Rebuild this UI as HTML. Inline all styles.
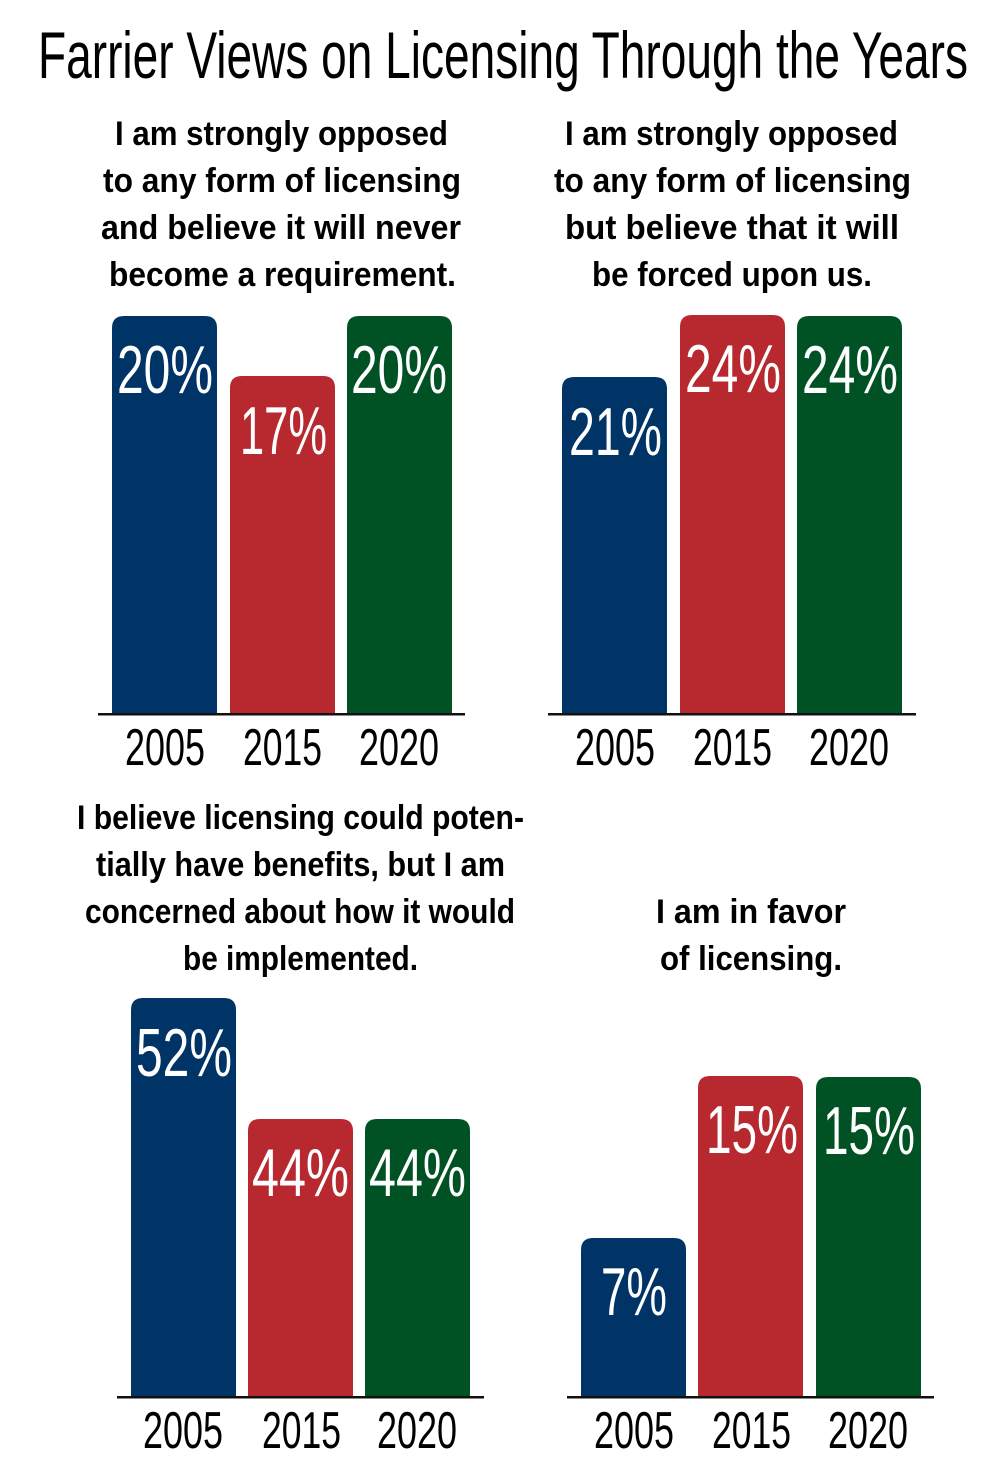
<!DOCTYPE html>
<html><head><meta charset="utf-8"><style>html,body{margin:0;padding:0;background:#fff}svg{display:block}</style></head><body>
<svg width="1000" height="1459" viewBox="0 0 1000 1459" xmlns="http://www.w3.org/2000/svg" font-family="'Liberation Sans Narrow','Liberation Sans',sans-serif">
<text x="38" y="78" font-size="66" textLength="930" lengthAdjust="spacingAndGlyphs" fill="#000">Farrier Views on Licensing Through the Years</text>
<g font-size="34" font-weight="bold" fill="#000" lengthAdjust="spacingAndGlyphs">
<text x="115" y="145" textLength="333" lengthAdjust="spacingAndGlyphs">I am strongly opposed</text>
<text x="103" y="192" textLength="358" lengthAdjust="spacingAndGlyphs">to any form of licensing</text>
<text x="101" y="239" textLength="360" lengthAdjust="spacingAndGlyphs">and believe it will never</text>
<text x="109" y="286" textLength="347" lengthAdjust="spacingAndGlyphs">become a requirement.</text>
<text x="565" y="145" textLength="333" lengthAdjust="spacingAndGlyphs">I am strongly opposed</text>
<text x="554" y="192" textLength="357" lengthAdjust="spacingAndGlyphs">to any form of licensing</text>
<text x="565" y="239" textLength="334" lengthAdjust="spacingAndGlyphs">but believe that it will</text>
<text x="592" y="286" textLength="280" lengthAdjust="spacingAndGlyphs">be forced upon us.</text>
<text x="77" y="829" textLength="447" lengthAdjust="spacingAndGlyphs">I believe licensing could poten-</text>
<text x="96" y="876" textLength="409" lengthAdjust="spacingAndGlyphs">tially have benefits, but I am</text>
<text x="85" y="923" textLength="430" lengthAdjust="spacingAndGlyphs">concerned about how it would</text>
<text x="183" y="970" textLength="235" lengthAdjust="spacingAndGlyphs">be implemented.</text>
<text x="656" y="923" textLength="190" lengthAdjust="spacingAndGlyphs">I am in favor</text>
<text x="660" y="970" textLength="182" lengthAdjust="spacingAndGlyphs">of licensing.</text>
</g>
<defs>
<path id="b" d=""/>
</defs>
<!-- bars: path with rounded top -->
<g>
<path fill="#003366" d="M112,714 V328 Q112,316 124,316 H205 Q217,316 217,328 V714Z"/>
<path fill="#b7282f" d="M230,714 V388 Q230,376 242,376 H323 Q335,376 335,388 V714Z"/>
<path fill="#005224" d="M347,714 V328 Q347,316 359,316 H440 Q452,316 452,328 V714Z"/>
<rect x="98" y="713" width="367" height="2.5" fill="#111"/>
<path fill="#003366" d="M562,714 V389 Q562,377 574,377 H655 Q667,377 667,389 V714Z"/>
<path fill="#b7282f" d="M680,714 V327 Q680,315 692,315 H773 Q785,315 785,327 V714Z"/>
<path fill="#005224" d="M797,714 V328 Q797,316 809,316 H890 Q902,316 902,328 V714Z"/>
<rect x="548" y="713" width="368" height="2.5" fill="#111"/>
<path fill="#003366" d="M131,1397 V1010 Q131,998 143,998 H224 Q236,998 236,1010 V1397Z"/>
<path fill="#b7282f" d="M248,1397 V1131 Q248,1119 260,1119 H341 Q353,1119 353,1131 V1397Z"/>
<path fill="#005224" d="M365,1397 V1131 Q365,1119 377,1119 H458 Q470,1119 470,1131 V1397Z"/>
<rect x="117" y="1396" width="367" height="2.5" fill="#111"/>
<path fill="#003366" d="M581,1397 V1250 Q581,1238 593,1238 H674 Q686,1238 686,1250 V1397Z"/>
<path fill="#b7282f" d="M698,1397 V1088 Q698,1076 710,1076 H791 Q803,1076 803,1088 V1397Z"/>
<path fill="#005224" d="M816,1397 V1089 Q816,1077 828,1077 H909 Q921,1077 921,1089 V1397Z"/>
<rect x="567" y="1396" width="367" height="2.5" fill="#111"/>
</g>
<g font-size="68" fill="#fff">
<text x="117" y="393" textLength="96" lengthAdjust="spacingAndGlyphs">20%</text>
<text x="240" y="454" textLength="87" lengthAdjust="spacingAndGlyphs">17%</text>
<text x="351" y="393" textLength="96" lengthAdjust="spacingAndGlyphs">20%</text>
<text x="569" y="455" textLength="93" lengthAdjust="spacingAndGlyphs">21%</text>
<text x="685" y="392" textLength="96" lengthAdjust="spacingAndGlyphs">24%</text>
<text x="802" y="393" textLength="96" lengthAdjust="spacingAndGlyphs">24%</text>
<text x="136" y="1076" textLength="96" lengthAdjust="spacingAndGlyphs">52%</text>
<text x="252" y="1196" textLength="97" lengthAdjust="spacingAndGlyphs">44%</text>
<text x="369" y="1196" textLength="97" lengthAdjust="spacingAndGlyphs">44%</text>
<text x="601" y="1315" textLength="66" lengthAdjust="spacingAndGlyphs">7%</text>
<text x="706" y="1153" textLength="92" lengthAdjust="spacingAndGlyphs">15%</text>
<text x="823" y="1154" textLength="92" lengthAdjust="spacingAndGlyphs">15%</text>
</g>
<g font-size="52" fill="#000">
<text x="125" y="765" textLength="80" lengthAdjust="spacingAndGlyphs">2005</text>
<text x="243" y="765" textLength="79" lengthAdjust="spacingAndGlyphs">2015</text>
<text x="359" y="765" textLength="80" lengthAdjust="spacingAndGlyphs">2020</text>
<text x="575" y="765" textLength="80" lengthAdjust="spacingAndGlyphs">2005</text>
<text x="693" y="765" textLength="79" lengthAdjust="spacingAndGlyphs">2015</text>
<text x="809" y="765" textLength="80" lengthAdjust="spacingAndGlyphs">2020</text>
<text x="143" y="1448" textLength="80" lengthAdjust="spacingAndGlyphs">2005</text>
<text x="262" y="1448" textLength="79" lengthAdjust="spacingAndGlyphs">2015</text>
<text x="377" y="1448" textLength="80" lengthAdjust="spacingAndGlyphs">2020</text>
<text x="594" y="1448" textLength="80" lengthAdjust="spacingAndGlyphs">2005</text>
<text x="712" y="1448" textLength="79" lengthAdjust="spacingAndGlyphs">2015</text>
<text x="828" y="1448" textLength="80" lengthAdjust="spacingAndGlyphs">2020</text>
</g>
</svg>
</body></html>
